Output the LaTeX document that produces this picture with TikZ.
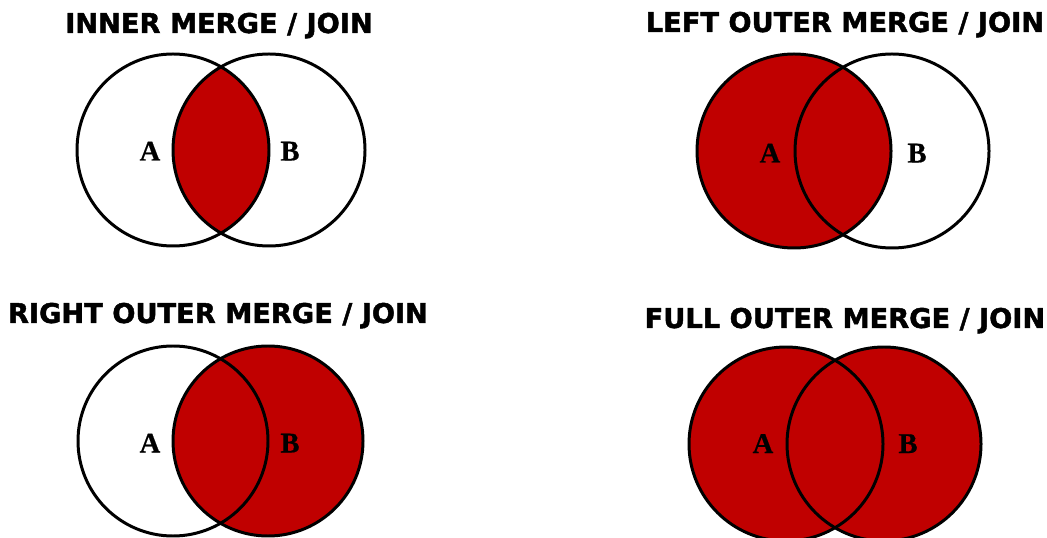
\documentclass[tikz,border=0pt]{standalone}
\usepackage{xcolor}
\usepackage{fontspec}
\usepackage{tikz}
\newfontfamily\headfont{DejaVu Sans}[BoldFeatures={FakeBold=1.6}]
\newfontfamily\letterfont{Liberation Serif}[BoldFeatures={FakeBold=0.6}]
\definecolor{joinred}{RGB}{192,0,0}
\tikzset{
  ring/.style={line width=1.7pt, black},
  title/.style={anchor=base, inner sep=0pt, font=\headfont\bfseries\fontsize{15.5}{18}\selectfont},
  setname/.style={anchor=base, inner sep=0pt, font=\letterfont\bfseries\fontsize{16.3}{18}\selectfont}
}

\begin{document}
\begin{tikzpicture}
\useasboundingbox (0,0) rectangle (20.94,10.74);
\fill[white] (0,0) rectangle (20.94,10.74);

% inner
\begin{scope}
\clip (3.46,7.74) circle (1.92);
\fill[joinred] (5.38,7.74) circle (1.92);
\end{scope}
\draw[ring] (3.46,7.74) circle (1.92);
\draw[ring] (5.38,7.74) circle (1.92);
\node[title] (tinner) at (4.38,10.08) {INNER MERGE / JOIN};
\node[setname] (a1) at (3.00,7.53) {A};
\node[setname] (b1) at (5.80,7.53) {B};

% left outer
\fill[joinred] (15.88,7.72) circle (1.94);
\draw[ring] (15.88,7.72) circle (1.94);
\draw[ring] (17.84,7.72) circle (1.94);
\node[title] (tleft) at (16.90,10.10) {LEFT OUTER MERGE / JOIN};
\node[setname] (a2) at (15.40,7.49) {A};
\node[setname] (b2) at (18.34,7.49) {B};

% right outer
\fill[joinred] (5.36,1.92) circle (1.90);
\draw[ring] (3.46,1.92) circle (1.90);
\draw[ring] (5.36,1.92) circle (1.90);
\node[title] (tright) at (4.36,4.28) {RIGHT OUTER MERGE / JOIN};
\node[setname] (a3) at (3.00,1.69) {A};
\node[setname] (b3) at (5.80,1.69) {B};

% full outer
\fill[joinred] (15.72,1.86) circle (1.94);
\fill[joinred] (17.68,1.86) circle (1.94);
\draw[ring] (15.72,1.86) circle (1.94);
\draw[ring] (17.68,1.86) circle (1.94);
\node[title] (tfull) at (16.90,4.18) {FULL OUTER MERGE / JOIN};
\node[setname] (a4) at (15.26,1.68) {A};
\node[setname] (b4) at (18.16,1.68) {B};
\end{tikzpicture}
\end{document}
